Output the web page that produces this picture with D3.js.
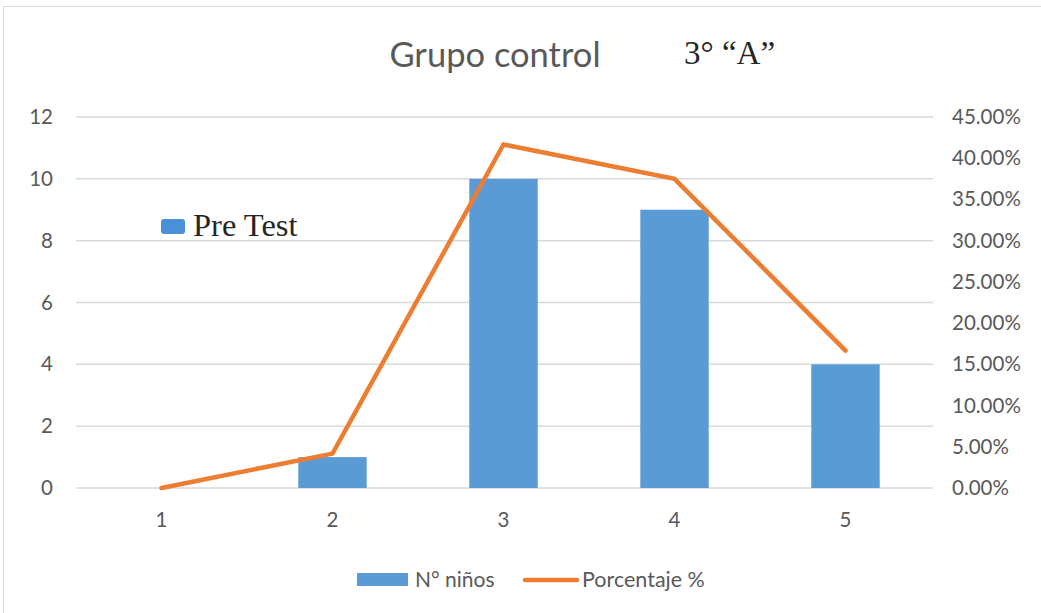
<!DOCTYPE html>
<html><head><meta charset="utf-8">
<script src="https://cdn.jsdelivr.net/npm/d3@7"></script>
<style>body{margin:0;background:#fff}text{font-family:Lato,sans-serif}</style>
</head><body><svg id="c" width="1041" height="613"></svg>
<script>
const categories = ["1","2","3","4","5"];
const ninos = [0,1,10,9,4];
const porcentaje = [0,0.0417,0.4167,0.375,0.1667];
const leftTicks = [0,2,4,6,8,10,12];
const rightTicks = [0,0.05,0.10,0.15,0.20,0.25,0.30,0.35,0.40,0.45];

const svg = d3.select("#c");
svg.append("rect").attr("x",3.5).attr("y",6.5).attr("width",1045).attr("height",620)
  .attr("fill","#fff").attr("stroke","#d9d9d9");

const L=76,R=931,T=117,B=488;
const x = d3.scaleBand().domain(categories).range([L,R]).paddingInner(0.6).paddingOuter(0.3);
const xc = d => x(d)+x.bandwidth()/2;
const y = d3.scaleLinear().domain([0,12]).range([B,T]);
const y2 = d3.scaleLinear().domain([0,0.45]).range([B,T]);

svg.append("g").selectAll("line").data(leftTicks).join("line")
  .attr("x1",L).attr("x2",R+2).attr("y1",d=>y(d)).attr("y2",d=>y(d))
  .attr("stroke","#d9d9d9").attr("stroke-width",1.5);

svg.append("g").selectAll("text").data(leftTicks).join("text")
  .attr("x",53).attr("y",d=>y(d)+7).attr("text-anchor","end")
  .attr("font-size",20.5).attr("fill","#595959").text(d=>d);

svg.append("g").selectAll("text").data(rightTicks).join("text")
  .attr("x",952).attr("y",d=>y2(d)+7).attr("text-anchor","start")
  .attr("font-size",20.5).attr("fill","#595959").text(d=>(d*100).toFixed(2)+"%");

svg.append("g").selectAll("text").data(categories).join("text")
  .attr("x",d=>xc(d)).attr("y",B+39).attr("text-anchor","middle")
  .attr("font-size",20.5).attr("fill","#595959").text(d=>d);

svg.append("g").selectAll("rect").data(categories).join("rect")
  .attr("x",d=>x(d)).attr("width",x.bandwidth())
  .attr("y",(d,i)=>y(ninos[i])).attr("height",(d,i)=>B-y(ninos[i]))
  .attr("fill","#5b9bd5");

const line = d3.line().x((d,i)=>xc(categories[i])).y(d=>y2(d));
svg.append("path").datum(porcentaje).attr("d",line).attr("fill","none")
  .attr("stroke","#ed7d31").attr("stroke-width",4.5).attr("stroke-linecap","round").attr("stroke-linejoin","miter");

// title
svg.append("text").attr("x",495).attr("y",67).attr("text-anchor","middle")
  .attr("font-size",34.5).attr("fill","#595959").text("Grupo control");
svg.append("text").attr("x",684).attr("y",64)
  .style("font-family","'Liberation Serif',serif")
  .attr("font-size",33).attr("fill","#262626").text("3° “A”");

// Pre Test label
svg.append("rect").attr("x",161).attr("y",219).attr("width",24).attr("height",15).attr("rx",3)
  .attr("fill","#4a90d9");
svg.append("text").attr("x",193).attr("y",236).style("font-family","'Liberation Serif',serif")
  .attr("font-size",32.5).attr("fill","#262626").text("Pre Test");

// legend
svg.append("rect").attr("x",357).attr("y",573).attr("width",51).attr("height",13).attr("fill","#5b9bd5");
svg.append("text").attr("x",415).attr("y",587).attr("font-size",21).attr("fill","#595959").text("N° niños");
svg.append("line").attr("x1",525).attr("x2",577).attr("y1",580).attr("y2",580)
  .attr("stroke","#ed7d31").attr("stroke-width",4.5).attr("stroke-linecap","round");
svg.append("text").attr("x",582).attr("y",587).attr("font-size",21.5).attr("fill","#595959").text("Porcentaje %");
</script></body></html>
